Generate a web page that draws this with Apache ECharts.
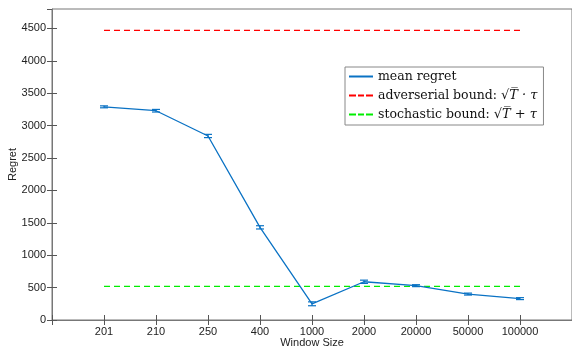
<!DOCTYPE html>
<html>
<head>
<meta charset="utf-8">
<script src="https://cdn.jsdelivr.net/npm/echarts@6/dist/echarts.min.js"></script>
<style>
  html, body { margin: 0; padding: 0; background: #fff; }
  #chart { width: 572px; height: 350px; }
</style>
</head>
<body>
<div id="chart"></div>
<script>
// window sizes shown as evenly spaced categories
const windowSizes = ['201', '210', '250', '400', '1000', '2000', '20000', '50000', '100000'];
const meanRegret = [3290, 3230, 2840, 1430, 250, 590, 530, 400, 330];
const regretErr = [15, 20, 25, 25, 30, 25, 15, 15, 15];
const adversarialBound = 4470;
const stochasticBound = 520;

const xs = windowSizes.map((_, i) => i + 1);
const blue = '#0a72c4';
const red = '#ff0000';
const green = '#00ee00';

const chart = echarts.init(document.getElementById('chart'));

const axisColor = '#777';
const tickColor = '#555';
const labelColor = '#222';
const dashIcon = 'path://M0,0h7v2h-7z M9,0h6v2h-6z M17,0h7v2h-7z';

chart.setOption({
  animation: false,
  grid: {
    left: 52, top: 9, right: 0, bottom: 30,
    outerBoundsMode: 'none',
    show: true, borderColor: axisColor, borderWidth: 1
  },
  legend: {
    orient: 'vertical',
    left: 345,
    top: 67,
    padding: [3, 6, 4, 4],
    itemGap: 6,
    itemWidth: 24,
    itemHeight: 2,
    borderColor: '#888',
    borderWidth: 1,
    backgroundColor: '#fff',
    data: [
      { name: 'mean regret', icon: 'rect', itemStyle: { color: blue } },
      { name: 'adverserial', icon: dashIcon, itemStyle: { color: red } },
      { name: 'stochastic', icon: dashIcon, itemStyle: { color: green } }
    ],
    formatter: function (name) {
      if (name === 'mean regret') return '{t|mean regret}';
      if (name === 'adverserial') return '{t|adverserial bound: }{m|√T̅ · τ}';
      return '{t|stochastic bound: }{m|√T̅ + τ}';
    },
    textStyle: {
      rich: {
        t: { fontFamily: 'DejaVu Serif', fontSize: 12.5, color: '#111' },
        m: { fontFamily: 'DejaVu Serif', fontStyle: 'italic', fontSize: 13, color: '#111' }
      }
    }
  },
  xAxis: [{
    type: 'value',
    min: 0,
    max: 10,
    interval: 1,
    name: 'Window Size',
    nameLocation: 'middle',
    nameGap: 17,
    nameMoveOverlap: false,
    nameTextStyle: { fontFamily: 'Liberation Sans', fontSize: 11, color: labelColor },
    axisLine: { lineStyle: { color: axisColor } },
    axisTick: { show: true, inside: true, length: 5, lineStyle: { color: tickColor } },
    axisLabel: {
      fontFamily: 'Liberation Sans', fontSize: 11, color: labelColor, margin: 6,
      formatter: v => windowSizes[v - 1] || ''
    },
    splitLine: { show: false }
  }, {
    type: 'value',
    position: 'top',
    min: 0,
    max: 10,
    interval: 1,
    axisLine: { show: true, lineStyle: { color: axisColor } },
    axisTick: { show: true, inside: true, length: 5, lineStyle: { color: tickColor } },
    axisLabel: { show: false },
    splitLine: { show: false }
  }],
  yAxis: [{
    type: 'value',
    min: 0,
    max: 4800,
    interval: 500,
    name: 'Regret',
    nameLocation: 'middle',
    nameGap: 34,
    nameMoveOverlap: false,
    nameTextStyle: { fontFamily: 'Liberation Sans', fontSize: 11, color: labelColor },
    axisLine: { show: true, lineStyle: { color: axisColor } },
    axisTick: { show: true, inside: true, length: 5, lineStyle: { color: tickColor } },
    axisLabel: {
      fontFamily: 'Liberation Sans', fontSize: 11, color: labelColor, margin: 6,
      showMaxLabel: false,
      formatter: v => String(v)
    },
    splitLine: { show: false }
  }, {
    type: 'value',
    position: 'right',
    min: 0,
    max: 4800,
    interval: 500,
    axisLine: { show: false },
    axisTick: { show: true, inside: true, length: 5, lineStyle: { color: tickColor } },
    axisLabel: { show: false },
    splitLine: { show: false }
  }],
  series: [{
    name: 'mean regret',
    type: 'line',
    data: xs.map((x, i) => [x, meanRegret[i]]),
    symbol: 'none',
    lineStyle: { color: blue, width: 1.3 },
    itemStyle: { color: blue },
    z: 3
  }, {
    name: 'errorbars',
    type: 'custom',
    data: xs.map((x, i) => [x, meanRegret[i] - regretErr[i], meanRegret[i] + regretErr[i]]),
    renderItem: function (params, api) {
      const lo = api.coord([api.value(0), api.value(1)]);
      const hi = api.coord([api.value(0), api.value(2)]);
      const hw = 4;
      const style = { stroke: blue, lineWidth: 1.2 };
      return {
        type: 'group',
        children: [
          { type: 'line', shape: { x1: lo[0], y1: lo[1], x2: hi[0], y2: hi[1] }, style },
          { type: 'line', shape: { x1: lo[0] - hw, y1: lo[1], x2: lo[0] + hw, y2: lo[1] }, style },
          { type: 'line', shape: { x1: hi[0] - hw, y1: hi[1], x2: hi[0] + hw, y2: hi[1] }, style }
        ]
      };
    },
    z: 4
  }, {
    name: 'adverserial',
    type: 'line',
    data: xs.map(x => [x, adversarialBound]),
    symbol: 'none',
    lineStyle: { color: red, width: 1.2, type: [6, 4] },
    itemStyle: { color: red }
  }, {
    name: 'stochastic',
    type: 'line',
    data: xs.map(x => [x, stochasticBound]),
    symbol: 'none',
    lineStyle: { color: green, width: 1.2, type: [6, 4] },
    itemStyle: { color: green },
    z: 2
  }]
});
</script>
</body>
</html>
